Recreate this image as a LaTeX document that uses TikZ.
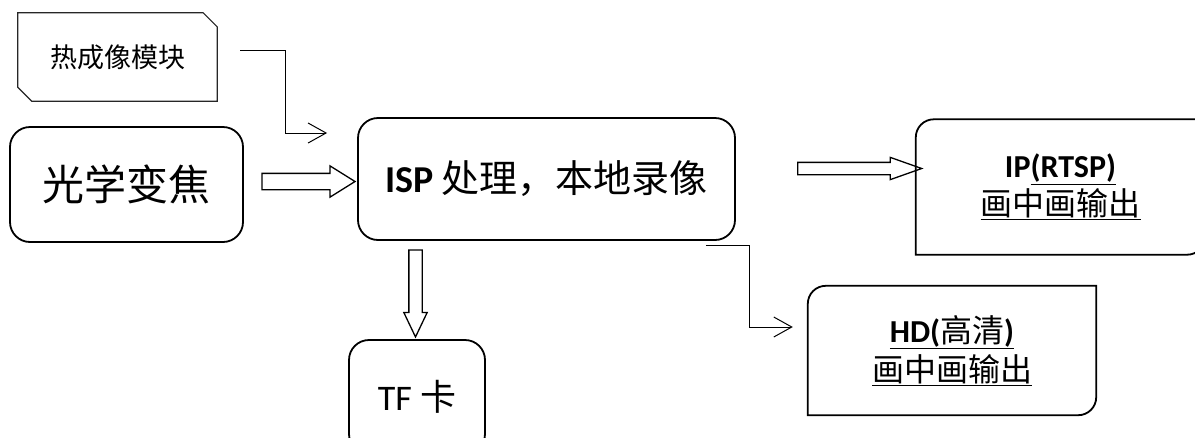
\documentclass[tikz,border=0pt]{standalone}
\usepackage{fontspec}
\setmainfont{Carlito}
\newfontfamily\cjk{Noto Sans CJK SC}
\usetikzlibrary{arrows.meta,shapes.arrows}

\begin{document}
\begin{tikzpicture}[x=1pt, y=-1pt]
    \useasboundingbox (0,0) rectangle (1195,437);

    \begin{scope}[every node/.style={draw=black,rounded corners=20pt,line width=1.8pt,inner sep=0pt}]
        \node[minimum width=233pt, minimum height=115pt, font=\fontsize{42}{48}\selectfont\cjk] (S_2) at (126.5, 184.5) {光学变焦};
        \node[minimum width=377pt, minimum height=122pt, font=\fontsize{38}{44}\selectfont] (P_1) at (546.5, 179) {\textbf{ISP} {\cjk 处理，本地录像}};
        \node[minimum width=136pt, minimum height=114pt, font=\fontsize{36}{42}\selectfont] (O_3) at (417, 397) {TF {\cjk 卡}};
    \end{scope}

    \begin{scope}[every node/.style={draw=none,inner sep=0pt,align=center}]
        \node[minimum width=199pt, minimum height=88pt, font=\fontsize{27}{30}\selectfont\cjk] (S_1) at (117.5, 57) {热成像模块};
        \node[minimum width=289pt, minimum height=135pt, font=\fontsize{32}{38}\selectfont] (O_1) at (1060.5, 187) {\textbf{IP\underline{(RTSP)}}\\ \underline{\cjk 画中画输出}};
        \node[minimum width=288pt, minimum height=129pt, font=\fontsize{32}{39}\selectfont] (O_2) at (952, 350.5) {\underline{\textbf{HD(}{\cjk 高清}\textbf{)}}\\ \underline{\cjk 画中画输出}};
    \end{scope}

    % snipped corners and diagonal rounded corners
    \draw[draw=black!85, line width=1.2pt] (S_1.north west) -- ([xshift=-14pt]S_1.north east) -- ([yshift=-14pt]S_1.north east)
        -- (S_1.south east) -- ([xshift=14pt]S_1.south west) -- ([yshift=14pt]S_1.south west) -- cycle;
    \begin{scope}[line width=1.8pt]
        \draw (O_1.south west) -- ([yshift=-18pt]O_1.north west) arc[start angle=180, end angle=90, radius=18pt]
            -- (O_1.north east) -- ([yshift=18pt]O_1.south east) arc[start angle=0, end angle=-90, radius=18pt] -- cycle;
        \draw (O_2.south west) -- ([yshift=-18pt]O_2.north west) arc[start angle=180, end angle=90, radius=18pt]
            -- (O_2.north east) -- ([yshift=18pt]O_2.south east) arc[start angle=0, end angle=-90, radius=18pt] -- cycle;
    \end{scope}

    \begin{scope}[every node/.style={single arrow,draw=black,line width=1.3pt,inner xsep=0pt,single arrow head indent=0pt}]
        \node[minimum height=93pt, inner ysep=7.5pt, single arrow head extend=7.5pt, single arrow tip angle=64] (D_1) at (302, 181.5) {};
        \node[minimum height=124pt, inner ysep=5.5pt, single arrow head extend=5pt, single arrow tip angle=39] (D_2) at (851, 168.5) {};
        \node[rotate=-90, minimum height=87pt, inner ysep=6pt, single arrow head extend=5pt, single arrow tip angle=51] (D_3) at (415.5, 286.5) {};
    \end{scope}

    \begin{scope}[every path/.style={line width=1pt}, thinarrow/.style={-{Straight Barb[length=18pt,width=20pt]}}]
        \draw[thinarrow] ([xshift=23pt,yshift=7pt]S_1.east) -- ++(45,0) |- ([xshift=-30pt,yshift=46pt]P_1.west);
        \draw[thinarrow] ([xshift=-30pt,yshift=-5pt]P_1.south east) -- ++(44,0) |- ([xshift=-15pt,yshift=23.5pt]O_2.west);
    \end{scope}
\end{tikzpicture}
\end{document}
